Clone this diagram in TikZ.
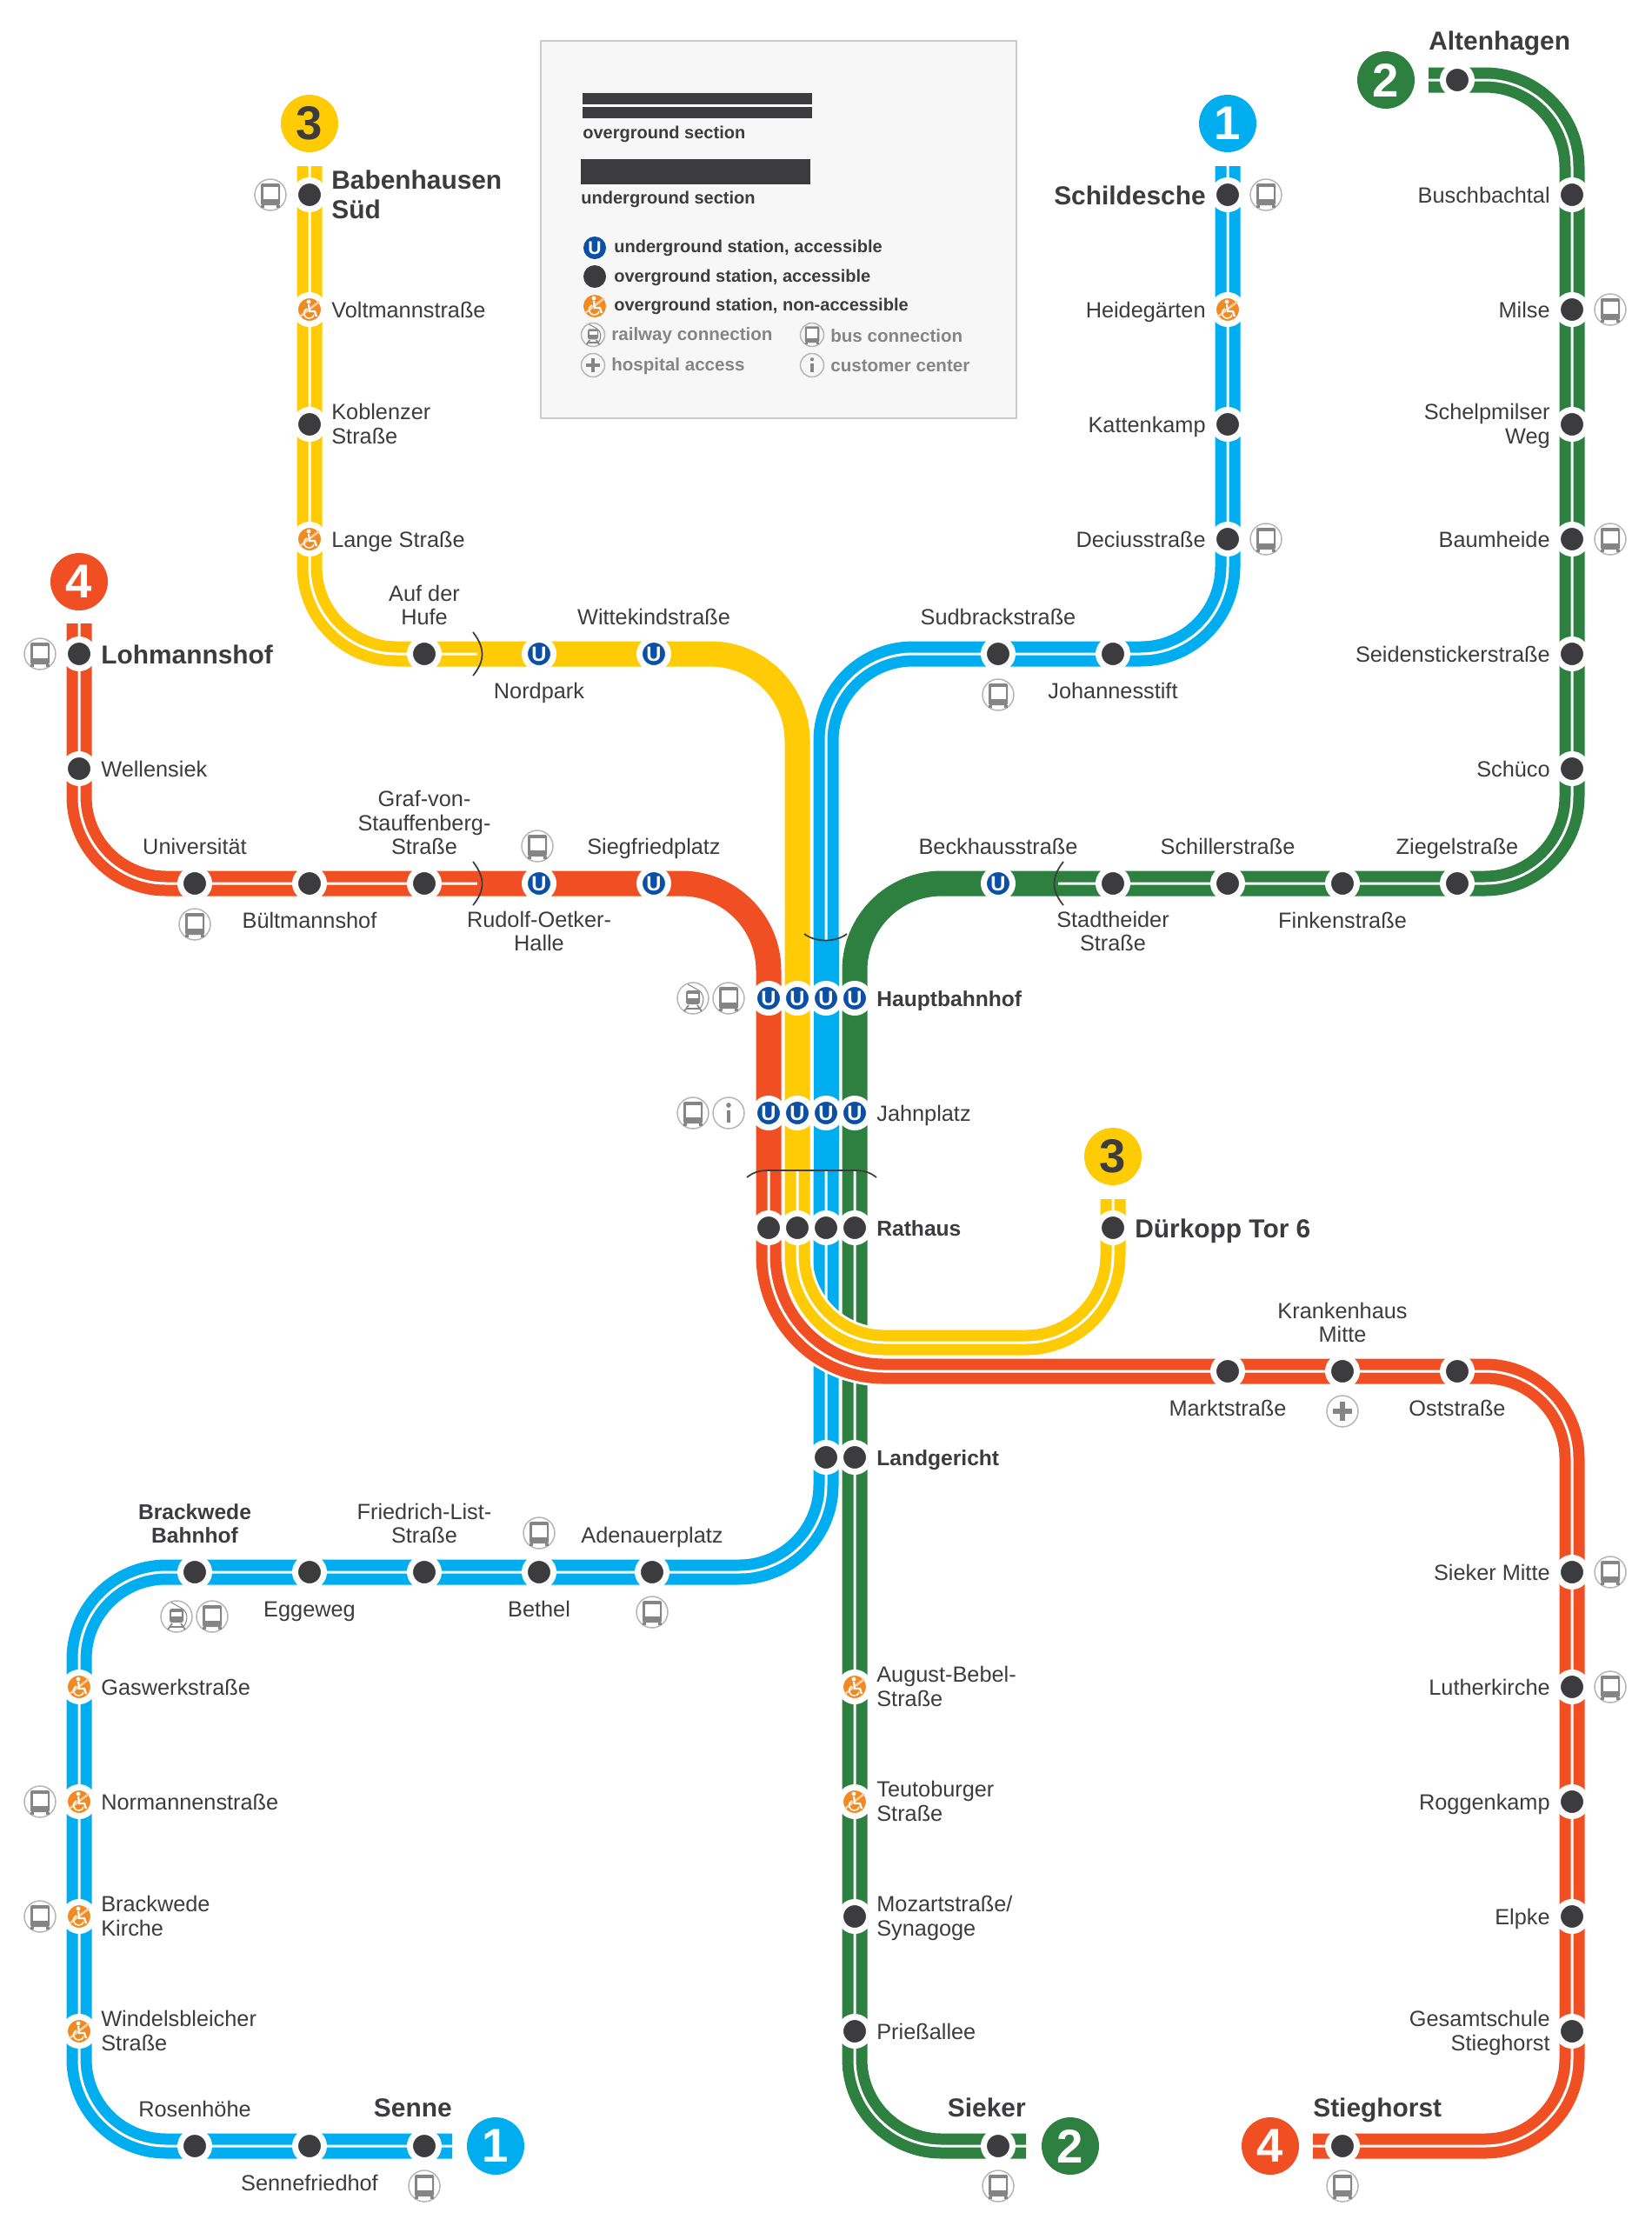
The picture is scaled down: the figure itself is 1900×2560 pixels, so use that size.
\documentclass[tikz,border=0pt]{standalone}
\usepackage{fontspec}
\setmainfont{Liberation Sans}
\usetikzlibrary{positioning,backgrounds}
\definecolor{cred}{HTML}{F04E23}
\definecolor{cyel}{HTML}{FFCB05}
\definecolor{cblue}{HTML}{00AEEF}
\definecolor{cgreen}{HTML}{2E8040}
\definecolor{cdark}{HTML}{3C3C3F}
\definecolor{corg}{HTML}{F18A22}
\definecolor{cub}{HTML}{0B50A5}
\definecolor{cgrey}{HTML}{858585}
\tikzset{
  st/.style={circle, fill=cdark, draw=white, line width=1.4mm, minimum size=6.6mm, inner sep=0pt},
  acc/.style={st, fill=corg},
  ust/.style={st, fill=cub, text=white, font=\fontsize{13.5}{14}\selectfont\bfseries},
  oversec/.style={draw=#1, line width=2.6mm, double=white, double distance=.6mm, rounded corners=20mm},
  undersec/.style={draw=#1, line width=5.8mm, rounded corners=20mm},
  casing/.style={draw=white, line width=7mm, rounded corners=20mm},
  portal/.style={draw=cdark, line width=.35mm},
  badge/.style={circle, fill=#1, minimum size=13.2mm, inner sep=0pt, text=white, font=\fontsize{31}{31}\selectfont\bfseries},
  lbl/.style={font=\fontsize{14.4}{15.7}\selectfont, text=cdark, inner sep=0pt,
    execute at begin node=\strut, execute at end node=\strut},
  bf/.style={lbl, font=\fontsize{14}{15.7}\selectfont\bfseries},
  big/.style={lbl, font=\fontsize{17}{19.4}\selectfont\bfseries, yshift=-.3mm},
  aright/.style={align=left, yshift=-.7mm},
  aleft/.style={align=right, yshift=-.7mm},
  aabove/.style={align=center, yshift=-.1mm},
  abelow/.style={align=center, yshift=-1.3mm},
  lgd/.style={font=\fontsize{11.4}{13}\selectfont\bfseries, text=cdark, anchor=west, inner sep=0pt},
  lgy/.style={lgd, font=\fontsize{11.7}{13}\selectfont\bfseries, text=cgrey},
  ring/.style={draw=cgrey!60, line width=.3mm},
  bus/.pic={
    \draw[ring] (0,0) circle[radius=18];
    \fill[cgrey, rounded corners=.4mm] (-11,-13) rectangle (11,12);
    \fill[white] (-8.5,-9) rectangle (8.5,5);
    \fill[cgrey] (-11,12) rectangle (-7,15);
    \fill[cgrey] (7,12) rectangle (11,15);
  },
  rail/.pic={
    \draw[ring] (0,0) circle[radius=18];
    \draw[cgrey, line width=.2mm] (-6,-16) -- (5,-10) .. controls (13,-6) and (14,4) .. (8,12);
    \fill[cgrey, rounded corners=.5mm] (-8,-9) rectangle (8,7);
    \fill[white] (-6,-5) rectangle (6,0);
    \draw[cgrey, line width=.35mm] (-5,8) -- (-10,15) (5,8) -- (10,15) (-8,12) -- (8,12);
  },
  plus/.pic={
    \draw[ring] (0,0) circle[radius=18];
    \fill[cgrey] (-3,-11) rectangle (3,11);
    \fill[cgrey] (-11,-3) rectangle (11,3);
  },
  info/.pic={
    \draw[ring] (0,0) circle[radius=18];
    \fill[cgrey] (0,-9) circle[radius=2.8];
    \fill[cgrey] (-2.2,-3) rectangle (2.2,11);
  },
  chair/.pic={
    \draw[white!60!corg, line width=.5mm] (-11,8) -- (11,-9);
    \fill[white] (-1,-9) circle[radius=2.4];
    \draw[white, line width=.45mm] (-1,-6) -- (0,2) -- (6,2) -- (8,8);
    \draw[white, line width=.3mm] (-3,-1) .. controls (-9,2) and (-7,10) .. (0,10) .. controls (3,10) and (5,8) .. (5,6);
  },
}
\begin{document}
\begin{tikzpicture}[x=0.2mm,y=-0.2mm,node distance=1mm]
  \useasboundingbox (0,0) rectangle (1900,2560);

  % free line ends and portals
  \coordinate (l1a) at (1412,191);
  \coordinate (l1b) at (520,2468);
  \coordinate (l2a) at (1643,92);
  \coordinate (l2b) at (1180,2468);
  \coordinate (l3a) at (356,191);
  \coordinate (l3b) at (1280,1379);
  \coordinate (l4a) at (91,717);
  \coordinate (l4b) at (1510,2468);
  \coordinate (t1a) at (950,1081);
  \coordinate (t1b) at (950,1347);
  \coordinate (t2a) at (1217,1016);
  \coordinate (t2b) at (983,1347);
  \coordinate (t3a) at (549,752);
  \coordinate (t3b) at (917,1347);
  \coordinate (t4a) at (549,1016);
  \coordinate (t4b) at (884,1347);
  \coordinate (bend3) at (1100,1544);

  % stations with their names
  \foreach \nm/\cx/\cy/\kind/\side/\fnt/\lab in {
    babenhausen/356/224/st/right/big/{Babenhausen\\Süd},
    voltmann/356/356/acc/right/lbl/{Voltmannstraße},
    koblenzer/356/488/st/right/lbl/{Koblenzer\\Straße},
    lange/356/620/acc/right/lbl/{Lange Straße},
    hufe/488/752/st/above/lbl/{Auf der\\Hufe},
    nordpark/620/752/ust/below/lbl/{Nordpark},
    wittekind/752/752/ust/above/lbl/{Wittekindstraße},
    schildesche/1412/224/st/left/big/{Schildesche},
    heide/1412/356/acc/left/lbl/{Heidegärten},
    katten/1412/488/st/left/lbl/{Kattenkamp},
    decius/1412/620/st/left/lbl/{Deciusstraße},
    johannes/1280/752/st/below/lbl/{Johannesstift},
    sudbrack/1148/752/st/above/lbl/{Sudbrackstraße},
    busch/1808/224/st/left/lbl/{Buschbachtal},
    milse/1808/356/st/left/lbl/{Milse},
    schelp/1808/488/st/left/lbl/{Schelpmilser\\Weg},
    baumheide/1808/620/st/left/lbl/{Baumheide},
    seiden/1808/752/st/left/lbl/{Seidenstickerstraße},
    schueco/1808/884/st/left/lbl/{Schüco},
    ziegel/1676/1016/st/above/lbl/{Ziegelstraße},
    finken/1544/1016/st/below/lbl/{Finkenstraße},
    schiller/1412/1016/st/above/lbl/{Schillerstraße},
    stadtheide/1280/1016/st/below/lbl/{Stadtheider\\Straße},
    beckhaus/1148/1016/ust/above/lbl/{Beckhausstraße},
    lohmann/91/752/st/right/big/{Lohmannshof},
    wellensiek/91/884/st/right/lbl/{Wellensiek},
    uni/224/1016/st/above/lbl/{Universität},
    bueltmann/356/1016/st/below/lbl/{Bültmannshof},
    graf/488/1016/st/above/lbl/{Graf-von-\\Stauffenberg-\\Straße},
    oetker/620/1016/ust/below/lbl/{Rudolf-Oetker-\\Halle},
    siegfried/752/1016/ust/above/lbl/{Siegfriedplatz},
    hbf-g/983/1148/ust/right/bf/{Hauptbahnhof},
    jahn-g/983/1280/ust/right/lbl/{Jahnplatz},
    rat-g/983/1412/st/right/bf/{Rathaus},
    land-g/983/1676/st/right/bf/{Landgericht},
    duerkopp/1280/1412/st/right/big/{Dürkopp Tor 6},
    markt/1412/1577/st/below/lbl/{Marktstraße},
    kranken/1544/1577/st/above/lbl/{Krankenhaus\\Mitte},
    ost/1676/1577/st/below/lbl/{Oststraße},
    siekerm/1808/1808/st/left/lbl/{Sieker Mitte},
    luther/1808/1940/st/left/lbl/{Lutherkirche},
    roggen/1808/2072/st/left/lbl/{Roggenkamp},
    elpke/1808/2204/st/left/lbl/{Elpke},
    gesamt/1808/2336/st/left/lbl/{Gesamtschule\\Stieghorst},
    adenauer/750/1808/st/above/lbl/{Adenauerplatz},
    bethel/620/1808/st/below/lbl/{Bethel},
    friedrich/488/1808/st/above/lbl/{Friedrich-List-\\Straße},
    eggeweg/356/1808/st/below/lbl/{Eggeweg},
    brackwede/224/1808/st/above/bf/{Brackwede\\Bahnhof},
    gaswerk/91/1940/acc/right/lbl/{Gaswerkstraße},
    normannen/91/2072/acc/right/lbl/{Normannenstraße},
    kirche/91/2204/acc/right/lbl/{Brackwede\\Kirche},
    windels/91/2336/acc/right/lbl/{Windelsbleicher\\Straße},
    rosen/224/2468/st/above/lbl/{Rosenhöhe},
    friedhof/356/2468/st/below/lbl/{Sennefriedhof},
    bebel/983/1940/acc/right/lbl/{August-Bebel-\\Straße},
    teuto/983/2072/acc/right/lbl/{Teutoburger\\Straße},
    mozart/983/2204/st/right/lbl/{Mozartstraße/\\Synagoge},
    priess/983/2336/st/right/lbl/{Prießallee}}{
    \node[\kind] (\nm) at (\cx,\cy) {};
    \node[\fnt,\side=of \nm,a\side] (\nm-t) {\lab};
  }

  % stations whose names stand elsewhere
  \node[st] (altenhagen) at (1676,92) {};
  \node[st] (senne) at (488,2468) {};
  \node[st] (sieker) at (1148,2468) {};
  \node[st] (stieg) at (1544,2468) {};
  \node[big,anchor=south west,yshift=1mm] (altenhagen-t) at (altenhagen.north -| l2a) {Altenhagen};
  \node[big,anchor=south east,yshift=.9mm] (senne-t) at (senne.north -| l1b) {Senne};
  \node[big,anchor=south east,yshift=.9mm] (sieker-t) at (sieker.north -| l2b) {Sieker};
  \node[big,anchor=south west,yshift=.9mm] (stieg-t) at (stieg.north -| l4b) {Stieghorst};
  \foreach \nm/\cx in {r/884,y/917,b/950}{
    \node[ust] (hbf-\nm) at (\cx,1148) {U};
    \node[ust] (jahn-\nm) at (\cx,1280) {U};
    \node[st] (rat-\nm) at (\cx,1412) {};
  }
  \node[st] (land-b) at (950,1676) {};
  % U on the named underground stations
  \foreach \nm in {nordpark,wittekind,beckhaus,oetker,siegfried,hbf-g,jahn-g}
    \node[font=\fontsize{13.5}{14}\selectfont\bfseries,text=white,inner sep=0pt] (\nm-u) at (\nm) {U};
  \foreach \nm in {voltmann,lange,heide,gaswerk,normannen,kirche,windels,bebel,teuto}
    \pic at (\nm) {chair};

  % number badges
  \node[badge=cyel,text=cdark] (b3a) at (356,142) {3};
  \node[badge=cblue] (b1a) at (1412,142) {1};
  \node[badge=cgreen] (b2a) at (1594,92) {2};
  \node[badge=cred] (b4a) at (91,669) {4};
  \node[badge=cyel,text=cdark] (b3b) at (1280,1330) {3};
  \node[badge=cred] (b4b) at (1461,2468) {4};
  \node[badge=cgreen] (b2b) at (1231,2468) {2};
  \node[badge=cblue] (b1b) at (570,2468) {1};

  % connection icons
  \foreach \cx/\cy in {311/224,1456/224,1852/356,1852/620,1456/620,46/752,1148/799,224/1063,
    618/973,838/1148,797/1280,1852/1808,1852/1940,620/1763,750/1854,244/1859,46/2072,46/2204,
    488/2514,1148/2514,1544/2514}
    \pic at (\cx,\cy) {bus};
  \pic at (797,1148) {rail};
  \pic at (203,1859) {rail};
  \pic at (838,1280) {info};
  \pic at (1544,1623) {plus};

  % legend
  \draw[draw=black!20,fill=black!3,line width=.35mm] (622,47) rectangle (1169,481);
  \draw[oversec=cdark] (670,121.7) -- (934,121.7);
  \draw[undersec=cdark] (668,197) -- (932,197);
  \node[lgd] (lg-over) at (670,154) {overground section};
  \node[lgd] (lg-under) at (668,229) {underground section};
  \node[ust,draw=none,minimum size=5.2mm,font=\fontsize{12}{12}\selectfont\bfseries] (lg-u) at (684,285) {U};
  \node[st,draw=none,minimum size=5.2mm] (lg-o) at (684,318) {};
  \node[acc,draw=none,minimum size=5.2mm] (lg-n) at (684,352) {};
  \pic at (lg-n) {chair};
  \node[lgd] (lg-ut) at (706,285) {underground station, accessible};
  \node[lgd] (lg-ot) at (706,319) {overground station, accessible};
  \node[lgd] (lg-nt) at (706,352) {overground station, non-accessible};
  \pic[scale=.75] at (682,385) {rail};
  \pic[scale=.75] at (934,385) {bus};
  \pic[scale=.75] at (682,420) {plus};
  \pic[scale=.75] at (934,420) {info};
  \node[lgy] (lg-rail) at (703,386) {railway connection};
  \node[lgy] (lg-bus) at (955,386) {bus connection};
  \node[lgy] (lg-plus) at (703,421) {hospital access};
  \node[lgy] (lg-info) at (955,421) {customer center};

  \begin{pgfonlayer}{background}
    % line 1
    \draw[oversec=cblue] (l1a) |- (sudbrack.center) -| (t1a);
    \draw[undersec=cblue] (t1a) -- (t1b);
    \draw[oversec=cblue] (t1b) -- (t1b |- adenauer) -- (gaswerk |- adenauer) -- (gaswerk |- rosen) -- (l1b);
    % line 2
    \draw[oversec=cgreen] (l2a) -- (busch |- l2a) -- (busch |- ziegel) -- (t2a);
    \draw[undersec=cgreen] (t2a) -| (t2b);
    \draw[oversec=cgreen] (t2b) |- (l2b);
    % line 3
    \draw[oversec=cyel] (l3a) |- (t3a);
    \draw[undersec=cyel] (t3a) -| (t3b);
    \draw[casing] (t3b) -- (t3b |- bend3) -- (l3b |- bend3) -- (l3b);
    \draw[oversec=cyel] (t3b) -- (t3b |- bend3) -- (l3b |- bend3) -- (l3b);
    % line 4
    \draw[oversec=cred] (l4a) |- (t4a);
    \draw[undersec=cred] (t4a) -| (t4b);
    \draw[casing,rounded corners=26.6mm] (t4b) |- (markt);
    \draw[oversec=cred] (t4b) [rounded corners=26.6mm] -- (t4b |- markt) [rounded corners=20mm]
      -- (siekerm |- markt) -- (siekerm |- stieg) -- (l4b);
  \end{pgfonlayer}

  % portal marks
  \draw[portal] (544,727) .. controls (558,745) and (558,760) .. (544,777);
  \draw[portal] (544,991) .. controls (558,1009) and (558,1024) .. (544,1041);
  \draw[portal] (1223,991) .. controls (1209,1009) and (1209,1024) .. (1223,1041);
  \draw[portal] (925,1074) .. controls (938,1084) and (961,1084) .. (974,1074);
  \draw[portal] (859,1354) .. controls (868,1347) and (875,1346) .. (885,1346) -- (982,1346)
    .. controls (992,1346) and (999,1347) .. (1008,1354);
\end{tikzpicture}
\end{document}
